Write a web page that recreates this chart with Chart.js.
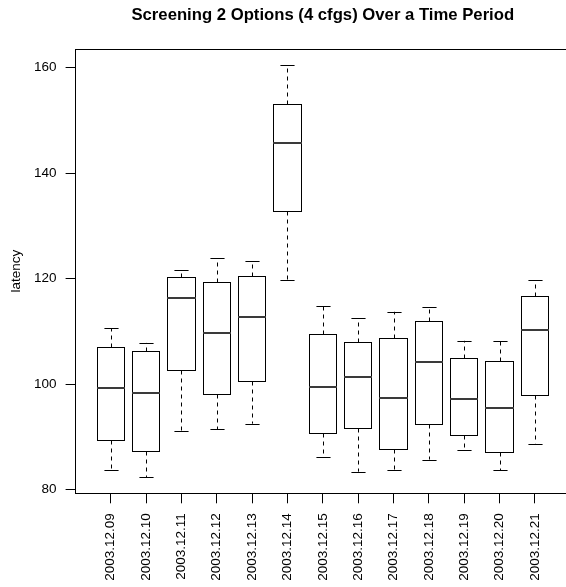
<!DOCTYPE html>
<html>
<head>
<meta charset="utf-8">
<script src="https://cdn.jsdelivr.net/npm/chart.js@4/dist/chart.umd.min.js"></script>
<style>
  html, body { margin: 0; padding: 0; background: #fff; overflow: hidden; }
  #wrap { width: 600px; height: 587px; }
</style>
</head>
<body>
<div id="wrap"><canvas id="c" width="600" height="587"></canvas></div>
<script>
// ---- data ----
const categories = ['2003.12.09','2003.12.10','2003.12.11','2003.12.12','2003.12.13','2003.12.14','2003.12.15','2003.12.16','2003.12.17','2003.12.18','2003.12.19','2003.12.20','2003.12.21'];
const whiskerLow  = [83.8, 82.4, 91.2, 91.4, 92.5, 119.7, 86.1, 83.4, 83.7, 85.7, 87.6, 83.7, 88.7];
const q1          = [89.3, 87.1, 102.4, 97.9, 100.3, 132.6, 90.6, 91.4, 87.5, 92.2, 90.1, 87.0, 97.7];
const median      = [99.2, 98.4, 116.3, 109.7, 112.8, 145.6, 99.5, 101.3, 97.4, 104.1, 97.2, 95.4, 110.2];
const q3          = [107.0, 106.3, 120.2, 119.4, 120.4, 153.0, 109.4, 107.9, 108.7, 112.0, 104.9, 104.4, 116.7];
const whiskerHigh = [110.6, 107.8, 121.7, 123.8, 123.4, 160.4, 114.8, 112.5, 113.7, 114.7, 108.2, 108.2, 119.7];
const yTicks = [80, 100, 120, 140, 160];
const titleText = 'Screening 2 Options (4 cfgs) Over a Time Period';
const yTitle = 'latency';

const FONT = "'Liberation Sans', Arial, Helvetica, sans-serif";

const boxData = categories.map((c, i) => ({ x: i + 1, y: [q1[i], q3[i]] }));

const boxExtras = {
  id: 'boxExtras',
  afterDatasetsDraw(chart) {
    const { ctx, scales: { x, y } } = chart;
    const meta = chart.getDatasetMeta(0);
    ctx.save();
    meta.data.forEach((bar, i) => {
      const cx = Math.round(x.getPixelForValue(i + 1)) + 0.5;
      const w = bar.width;
      const half = w / 2;
      const capHalf = w / 4;
      ctx.strokeStyle = '#000';
      ctx.lineWidth = 1;
      // box outline (crisp), from the bar element geometry
      const bl = Math.round(bar.x - half) + 0.5;
      const br = Math.round(bar.x + half) - 0.5;
      const bt = Math.round(Math.min(bar.y, bar.base)) + 0.5;
      const bb = Math.round(Math.max(bar.y, bar.base)) - 0.5;
      ctx.setLineDash([]);
      ctx.strokeRect(bl, bt, br - bl, bb - bt);
      // whiskers (dashed)
      ctx.setLineDash([4, 4]);
      ctx.beginPath();
      ctx.moveTo(cx, bt);
      ctx.lineTo(cx, y.getPixelForValue(whiskerHigh[i]));
      ctx.moveTo(cx, bb);
      ctx.lineTo(cx, y.getPixelForValue(whiskerLow[i]));
      ctx.stroke();
      // caps
      ctx.setLineDash([]);
      ctx.beginPath();
      const yh = Math.round(y.getPixelForValue(whiskerHigh[i])) + 0.5;
      const yl = Math.round(y.getPixelForValue(whiskerLow[i])) + 0.5;
      ctx.moveTo(cx - capHalf, yh); ctx.lineTo(cx + capHalf, yh);
      ctx.moveTo(cx - capHalf, yl); ctx.lineTo(cx + capHalf, yl);
      ctx.stroke();
      // median
      ctx.lineWidth = 2;
      ctx.strokeStyle = '#3a3a3a';
      ctx.beginPath();
      const ym = Math.round(y.getPixelForValue(median[i]));
      ctx.moveTo(bl - 0.5, ym); ctx.lineTo(br + 0.5, ym);
      ctx.stroke();
    });
    // frame
    const a = chart.chartArea;
    ctx.lineWidth = 1;
    ctx.strokeStyle = '#000';
    ctx.strokeRect(Math.round(a.left) + 0.5, Math.round(a.top) + 0.5, Math.round(a.right - a.left), Math.round(a.bottom - a.top));
    ctx.restore();
  }
};

new Chart(document.getElementById('c'), {
  type: 'bar',
  data: {
    datasets: [{
      data: boxData,
      backgroundColor: '#ffffff',
      borderColor: '#000000',
      borderWidth: 0,
      borderSkipped: false,
      barPercentage: 0.8,
      categoryPercentage: 1.0
    }]
  },
  options: {
    responsive: false,
    animation: false,
    devicePixelRatio: 1,
    layout: { padding: { left: 0, right: 29, top: 0, bottom: 0 } },
    plugins: {
      legend: { display: false },
      tooltip: { enabled: false },
      title: {
        display: true,
        text: titleText,
        fullSize: false,
        color: '#000',
        font: { family: FONT, size: 16.7, weight: 'bold', lineHeight: 1.2 },
        padding: { top: 5, bottom: 23.96 }
      }
    },
    scales: {
      x: {
        type: 'linear',
        offset: false,
        min: -0.02,
        max: 14.02,
        afterBuildTicks(scale) { scale.ticks = categories.map((c, i) => ({ value: i + 1 })); },
        afterFit(scale) { scale.height = 93.7; },
        grid: { offset: false, drawOnChartArea: false, drawTicks: true, tickLength: 10, color: '#000', lineWidth: 1 },
        border: { display: false },
        ticks: {
          autoSkip: false,
          minRotation: 90,
          maxRotation: 90,
          padding: 10,
          color: '#000',
          font: { family: FONT, size: 13.5 },
          callback: (v) => categories[v - 1]
        }
      },
      y: {
        type: 'linear',
        min: 79.3,
        max: 163.5,
        afterBuildTicks(scale) { scale.ticks = yTicks.map(v => ({ value: v })); },
        afterFit(scale) { scale.width = 74.6; },
        grid: { drawOnChartArea: false, drawTicks: true, tickLength: 9, color: '#000', lineWidth: 1 },
        border: { display: false },
        ticks: {
          padding: 9,
          color: '#000',
          font: { family: FONT, size: 13.5 }
        },
        title: {
          display: true,
          text: yTitle,
          color: '#000',
          font: { family: FONT, size: 13.5, lineHeight: 1.2 },
          padding: { top: 8.6, bottom: 0 }
        }
      }
    }
  },
  plugins: [boxExtras]
});
</script>
</body>
</html>
